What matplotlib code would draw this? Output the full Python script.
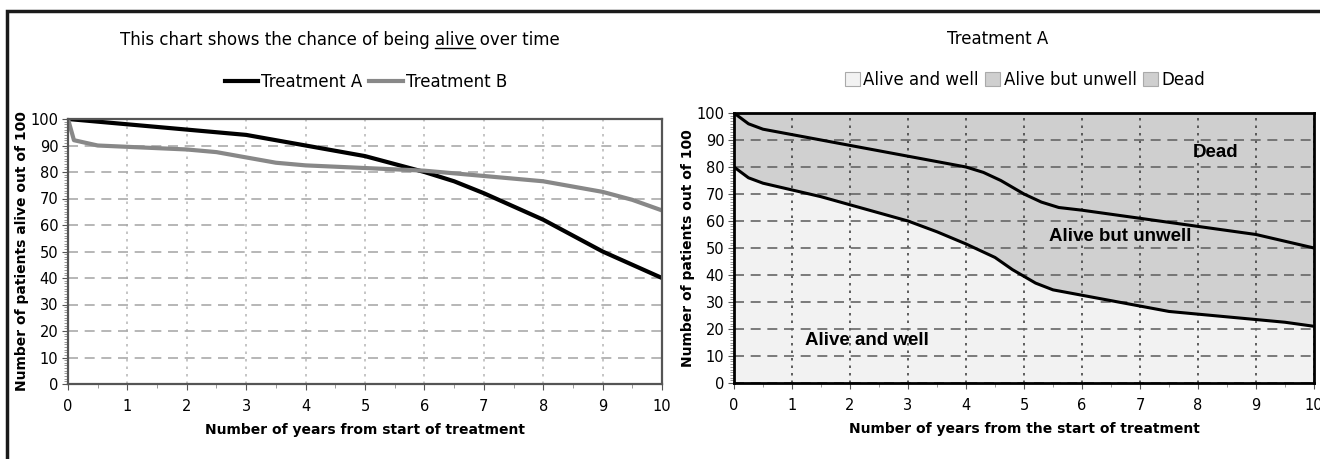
import matplotlib
matplotlib.use("Agg")
from matplotlib import pyplot as plt
from matplotlib.patches import Rectangle, Patch
from matplotlib.lines import Line2D
from matplotlib.ticker import MultipleLocator

plt.rcParams['font.family'] = ['DejaVu Sans']

# left chart: chance of being alive
years_a = [0, 0.5, 1, 1.5, 2, 2.5, 3, 3.5, 4, 4.5, 5, 5.5, 6, 6.5, 7, 7.5, 8, 8.5, 9, 9.5, 10]
alive_a = [100, 99, 98, 97, 96, 95, 94, 92, 90, 88, 86, 83, 80, 76.5, 72, 67, 62, 56, 50, 45, 40]
years_b = [0, 0.1, 0.5, 1, 1.5, 2, 2.5, 3, 3.5, 4, 5, 5.5, 6, 6.5, 7, 7.5, 8, 8.5, 9, 9.5, 10]
alive_b = [100, 92, 90, 89.5, 89, 88.5, 87.5, 85.5, 83.5, 82.5, 81.5, 81, 80.5, 79.5, 78.5, 77.5, 76.5, 74.5, 72.5, 69.5, 65.5]

# right chart: Treatment A split into well / unwell / dead
years_r = [0, 0.25, 0.5, 1, 1.5, 2, 2.5, 3, 3.5, 4, 4.3, 4.6, 5, 5.3, 5.6, 6, 6.5, 7, 7.5, 8, 8.5, 9, 9.5, 10]
alive_total = [100, 96, 94, 92, 90, 88, 86, 84, 82, 80, 78, 75, 70, 67, 65, 64, 62.5, 61, 59.5, 58, 56.5, 55, 52.5, 50]
years_w = [0, 0.25, 0.5, 1, 1.5, 2, 2.5, 3, 3.5, 4, 4.5, 4.8, 5, 5.2, 5.5, 6, 6.5, 7, 7.5, 8, 8.5, 9, 9.5, 10]
alive_well = [80, 76, 74, 71.5, 69, 66, 63, 60, 56, 51.5, 46.5, 42, 39.5, 37, 34.5, 32.5, 30.5, 28.5, 26.5, 25.5, 24.5, 23.5, 22.5, 21]

W, H = 1320, 459
fig = plt.figure(figsize=(W/100, H/100), dpi=100)

# frame round the whole picture (cut off on right and bottom)
fig.patches.append(Rectangle((7/W, -0.1), 1.2, (H - 11)/H + 0.1, transform=fig.transFigure,
                             fill=False, edgecolor="#1a1a1a", lw=2.5))

def setup(ax, hgrid, vgrid, spine_c, spine_w):
    ax.set_xlim(0, 10)
    ax.set_ylim(0, 100)
    ax.xaxis.set_major_locator(MultipleLocator(1))
    ax.xaxis.set_minor_locator(MultipleLocator(0.5))
    ax.yaxis.set_major_locator(MultipleLocator(10))
    ax.yaxis.set_minor_locator(MultipleLocator(1))
    ax.tick_params(axis="both", which="major", labelsize=10.5, length=4, color="#555555", pad=7)
    ax.tick_params(axis="y", which="major", pad=3)
    ax.tick_params(axis="both", which="minor", length=3, color="#888888")
    ax.grid(True, axis="y", which="major", linestyle=(0, (6, 4)), color=hgrid, lw=1.2)
    ax.grid(True, axis="x", which="major", linestyle=(0, (1.5, 3)), color=vgrid, lw=1.2)
    ax.set_axisbelow(True)
    for s in ax.spines.values():
        s.set_color(spine_c)
        s.set_linewidth(spine_w)

# ---- left chart
ax1 = fig.add_axes([68/W, (H - 384)/H, 594/W, 265/H])
setup(ax1, "#aaaaaa", "#bbbbbb", "#555555", 1.6)
ax1.plot(years_a, alive_a, color="black", lw=3, label="Treatment A")
ax1.plot(years_b, alive_b, color="#888888", lw=3, label="Treatment B")
ax1.set_xlabel("Number of years from start of treatment", fontweight="bold", fontsize=10, labelpad=6)
ax1.set_ylabel("Number of patients alive out of 100", fontweight="bold", fontsize=10, labelpad=1)
ax1.legend(loc="center", bbox_to_anchor=(366/W, (H - 82)/H), bbox_transform=fig.transFigure,
           ncol=2, frameon=False, fontsize=12, handlelength=2.0, columnspacing=0.4, handletextpad=0.2)

# ---- right chart
ax2 = fig.add_axes([734/W, (H - 383)/H, 580/W, 270/H])
ax2.fill_between(years_w, 0, alive_well, color="#f2f2f2", zorder=0.5)
ax2.fill_between(years_r, alive_total, 100, color="#cfcfcf", zorder=0.5)
ax2.fill_betweenx([0, 100], 0, 10, color="#d0d0d0", zorder=0.4)
setup(ax2, "#666666", "#444444", "black", 2)
for ln in ax2.get_ygridlines() + ax2.get_xgridlines():
    ln.set_zorder(1)
ax2.plot(years_r, alive_total, color="black", lw=2.2, zorder=3)
ax2.plot(years_w, alive_well, color="black", lw=2.2, zorder=3)
ax2.set_xlabel("Number of years from the start of treatment", fontweight="bold", fontsize=10, labelpad=6)
ax2.set_ylabel("Number of patients out of 100", fontweight="bold", fontsize=10, labelpad=1)
ax2.text(8.31, 85.2, "Dead", fontweight="bold", fontsize=13.5, ha="center", va="center",
         family="Liberation Sans", zorder=4)
ax2.text(6.66, 54.3, "Alive but unwell", fontweight="bold", fontsize=13.5, ha="center", va="center",
         family="Liberation Sans", zorder=4)
ax2.text(2.29, 15.9, "Alive and well", fontweight="bold", fontsize=13.5, ha="center", va="center",
         family="Liberation Sans", zorder=4)
handles = [Patch(facecolor="#f2f2f2", edgecolor="#aaaaaa", lw=0.8, label="Alive and well"),
           Patch(facecolor="#cfcfcf", edgecolor="#aaaaaa", lw=0.8, label="Alive but unwell"),
           Patch(facecolor="#cfcfcf", edgecolor="#aaaaaa", lw=0.8, label="Dead")]
fig.legend(handles=handles, loc="center", bbox_to_anchor=(1025/W, (H - 80)/H), ncol=3, frameon=False,
           fontsize=12, handlelength=0.9, handleheight=0.9, columnspacing=0.4, handletextpad=0.2)

fig.text(998/W, (H - 39)/H, "Treatment A", ha="center", va="center", fontsize=12)

# left title with "alive" underlined
prefix = "This chart shows the chance of being "
word = "alive"
title = prefix + word + " over time"
t = fig.text(340/W, (H - 40)/H, title, ha="center", va="center", fontsize=12)
fig.canvas.draw()
r = fig.canvas.get_renderer()
bb = t.get_window_extent(r)
tp = fig.text(0, 0, prefix.replace(" ", "\u00a0"), fontsize=12)
tw = fig.text(0, 0, word, fontsize=12)
x_start = bb.x0 + tp.get_window_extent(r).width
x_end = x_start + tw.get_window_extent(r).width
tp.remove()
tw.remove()
yline = bb.y0 + 1
fig.lines.append(Line2D([x_start / W, x_end / W], [yline / H, yline / H], transform=fig.transFigure,
                        color="black", lw=1))

fig.savefig("out.png", dpi=100)
